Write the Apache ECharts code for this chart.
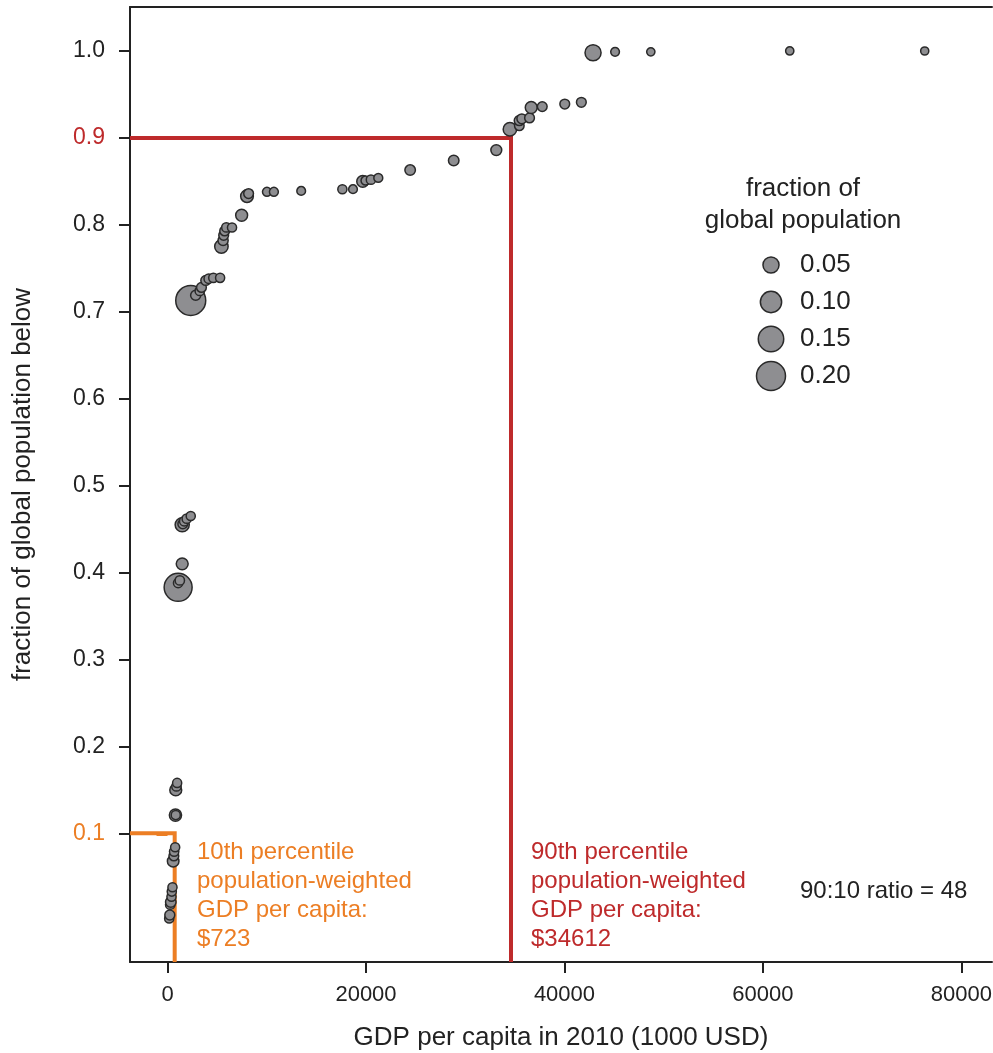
<!DOCTYPE html>
<html>
<head>
<meta charset="utf-8">
<script src="https://cdn.jsdelivr.net/npm/echarts@6/dist/echarts.min.js"></script>
<style>
  html, body { margin: 0; padding: 0; background: #fff; }
  #main { width: 993px; height: 1053px; }
</style>
</head>
<body>
<div id="main"></div>
<script>
// GDP per capita (2010) of each country
var gdp = [170, 230, 270, 330, 400, 430, 500, 570, 640, 670, 770, 800, 830, 830, 900, 970,
    1070, 1070, 1240, 1480, 1480, 1540, 1680, 1940, 2340,
    2340, 2840, 3250, 3420, 3850, 4150, 4620, 5300, 5430, 5600, 5660, 5760, 5930, 6500, 7470,
    8010, 8170, 10020, 10720, 13470, 17620, 18690, 19670, 19950, 20500, 21240, 24450, 28840,
    33130, 34500, 35450, 35450, 35700, 36480, 36650, 37760, 40030, 41700,
    42880, 45100, 48700, 62700, 76300];
// cumulative fraction of world population below
var fracBelow = [0.002, 0.006, 0.018, 0.021, 0.027, 0.033, 0.038, 0.068, 0.074, 0.079, 0.084, 0.121, 0.121, 0.150, 0.154, 0.158,
    0.383, 0.388, 0.391, 0.410, 0.455, 0.456, 0.459, 0.462, 0.465,
    0.713, 0.719, 0.724, 0.728, 0.736, 0.738, 0.739, 0.739, 0.775, 0.782, 0.788, 0.793, 0.797, 0.797, 0.811,
    0.833, 0.836, 0.838, 0.838, 0.839, 0.841, 0.841, 0.850, 0.851, 0.852, 0.854, 0.863, 0.874,
    0.886, 0.910, 0.914, 0.920, 0.922, 0.923, 0.935, 0.936, 0.939, 0.941,
    0.998, 0.999, 0.999, 1.000, 1.000];
// country's own share of world population
var popFrac = [0.005, 0.009, 0.006, 0.012, 0.005, 0.005, 0.005, 0.018, 0.008, 0.006, 0.005, 0.022, 0.005, 0.020, 0.006, 0.005,
    0.185, 0.006, 0.006, 0.020, 0.035, 0.008, 0.006, 0.006, 0.005,
    0.215, 0.010, 0.006, 0.008, 0.008, 0.006, 0.006, 0.005, 0.030, 0.010, 0.008, 0.008, 0.006, 0.005, 0.020,
    0.025, 0.008, 0.004, 0.004, 0.003, 0.005, 0.003, 0.020, 0.004, 0.006, 0.004, 0.012, 0.012,
    0.014, 0.030, 0.007, 0.010, 0.008, 0.008, 0.020, 0.008, 0.008, 0.008,
    0.050, 0.003, 0.001, 0.001, 0.0005];

var xTicks = [0, 20000, 40000, 60000, 80000];
var yTicks = [0.1, 0.2, 0.3, 0.4, 0.5, 0.6, 0.7, 0.8, 0.9, 1.0];
var legendFracs = [0.05, 0.10, 0.15, 0.20];
var legendLabels = ['0.05', '0.10', '0.15', '0.20'];

var p10 = 723, p90 = 34612, ratio = 48;
var xMin = -3780, xMax = 83080, yMin = -0.048, yMax = 1.0506;

var RED = '#be2a2b', ORANGE = '#ec7e24', INK = '#222';
var FONT = '"Liberation Sans", Arial, Helvetica, sans-serif';

function dotSize(f) {
    return Math.sqrt(64 + 3885 * f);
}

var points = [];
for (var i = 0; i < gdp.length; i++) {
    points.push([gdp[i], fracBelow[i], popFrac[i]]);
}

var p10Line = [[xMin, 0.1], [p10, 0.1], [p10, yMin]];
var p90Line = [[xMin, 0.9], [p90, 0.9], [p90, yMin]];

// extra y axes only to paint the 0.1 / 0.9 tick marks in their colour
function tickAxis(val, color) {
    return {
        type: 'value', position: 'left', min: yMin, max: yMax, z: 5,
        splitLine: { show: false }, axisLine: { show: false }, axisLabel: { show: false },
        axisTick: { show: true, length: 11, customValues: [val], lineStyle: { color: color, width: 4 } }
    };
}

var legendGraphics = [{
    type: 'text', x: 803, y: 173,
    style: { text: 'fraction of\nglobal population', font: '26px ' + FONT, fill: INK, align: 'center', lineHeight: 32 }
}];
legendFracs.forEach(function (f, k) {
    var r = dotSize(f) / 2;
    legendGraphics.push({
        type: 'circle', shape: { cx: 771, cy: 265 + k * 37, r: r },
        style: { fill: '#8e8e91', stroke: '#2a2a2a', lineWidth: 1.5 }
    });
    legendGraphics.push({
        type: 'text', x: 800, y: 265 + k * 37,
        style: { text: legendLabels[k], font: '26px ' + FONT, fill: INK, verticalAlign: 'middle' }
    });
});

var myChart = echarts.init(document.getElementById('main'));
var option = {
    animation: false,
    backgroundColor: '#fff',
    grid: { left: 130, right: 1, top: 7, bottom: 91, outerBoundsMode: 'none' },
    xAxis: [{
        type: 'value', min: xMin, max: xMax,
        name: 'GDP per capita in 2010 (1000 USD)', nameLocation: 'middle', nameGap: 63,
        nameTextStyle: { fontFamily: FONT, fontSize: 26, color: INK },
        splitLine: { show: false },
        axisLine: { show: true, onZero: false, lineStyle: { color: INK, width: 2 } },
        axisTick: { show: true, length: 11, customValues: xTicks, lineStyle: { color: INK, width: 2 } },
        axisLabel: {
            customValues: xTicks, margin: 22, fontFamily: FONT, fontSize: 22, color: INK,
            formatter: function (v) { return String(v); }
        }
    }, {
        type: 'value', position: 'top', min: xMin, max: xMax,
        splitLine: { show: false },
        axisLine: { show: true, onZero: false, lineStyle: { color: INK, width: 2 } },
        axisTick: { show: false }, axisLabel: { show: false }
    }],
    yAxis: [{
        type: 'value', min: yMin, max: yMax,
        name: 'fraction of global population below', nameLocation: 'middle', nameGap: 94,
        nameTextStyle: { fontFamily: FONT, fontSize: 26, color: INK },
        splitLine: { show: false },
        axisLine: { show: true, onZero: false, lineStyle: { color: INK, width: 2 } },
        axisTick: { show: true, length: 11, customValues: yTicks, lineStyle: { color: INK, width: 2 } },
        axisLabel: {
            customValues: yTicks, margin: 25, fontFamily: FONT, fontSize: 23,
            formatter: function (v) { return Number(v).toFixed(1); },
            color: function (v) {
                v = Number(v);
                if (Math.abs(v - 0.9) < 1e-6) return RED;
                if (Math.abs(v - 0.1) < 1e-6) return ORANGE;
                return INK;
            }
        }
    }, tickAxis(0.9, RED), tickAxis(0.1, ORANGE)],
    series: [{
        type: 'line', data: p10Line, symbol: 'none', silent: true,
        lineStyle: { color: ORANGE, width: 4, join: 'miter' }, z: 1
    }, {
        type: 'line', data: p90Line, symbol: 'none', silent: true,
        lineStyle: { color: RED, width: 4, join: 'miter' }, z: 1
    }, {
        type: 'scatter', data: points, z: 3,
        symbolSize: function (d) { return dotSize(d[2]); },
        itemStyle: { color: '#8e8e91', borderColor: '#2a2a2a', borderWidth: 1.5, opacity: 1 }
    }],
    graphic: [{
        type: 'text', left: 197, top: 838,
        style: { text: '10th percentile\npopulation-weighted\nGDP per capita:\n$' + p10, font: '24px ' + FONT, fill: ORANGE, lineHeight: 29 }
    }, {
        type: 'text', left: 531, top: 838,
        style: { text: '90th percentile\npopulation-weighted\nGDP per capita:\n$' + p90, font: '24px ' + FONT, fill: RED, lineHeight: 29 }
    }, {
        type: 'text', left: 800, top: 879,
        style: { text: '90:10 ratio = ' + ratio, font: '24px ' + FONT, fill: INK }
    }].concat(legendGraphics)
};
myChart.setOption(option);
</script>
</body>
</html>
